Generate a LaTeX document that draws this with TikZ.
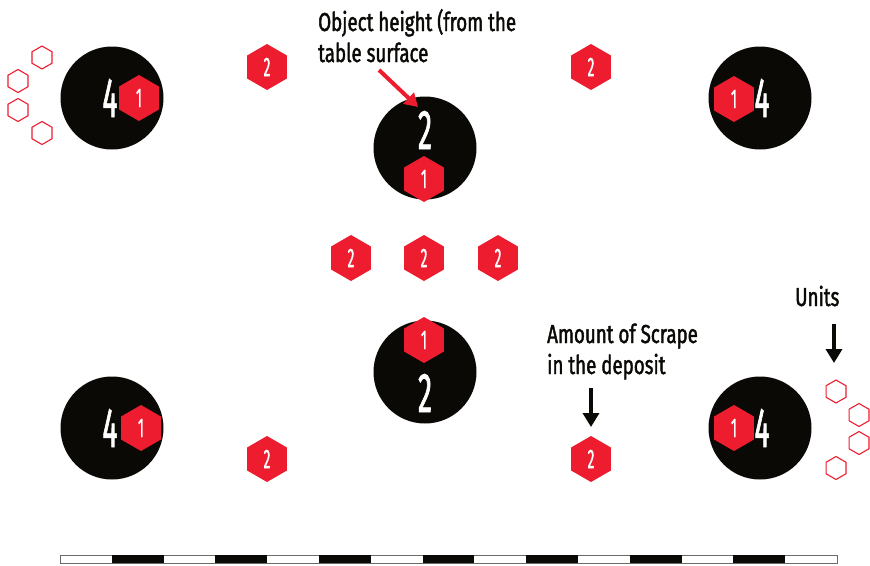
\documentclass[tikz,border=0pt]{standalone}
\usepackage{fontspec}
\usetikzlibrary{shapes.geometric,arrows.meta}
\newfontfamily\labfont[FakeStretch=0.72,FakeBold=1.6]{Fira Sans}
\newfontfamily\numfont[FakeStretch=0.5,FakeBold=1.2]{Fira Sans}
\definecolor{hexred}{RGB}{237,28,46}
\definecolor{ink}{RGB}{10,9,6}
\begin{document}
\begin{tikzpicture}[x=1pt,y=-1pt,
  disc/.style={circle,fill=ink,minimum size=103pt,inner sep=0},
  hexfill/.style={regular polygon,regular polygon sides=6,shape border rotate=30,fill=hexred,minimum size=46pt,inner sep=0,text=white,font=\numfont\fontsize{27}{27}\selectfont},
  hexline/.style={regular polygon,regular polygon sides=6,shape border rotate=30,draw=hexred,line width=1.1pt,minimum size=23pt,inner sep=0},
  bignum/.style={text=white,inner sep=0,font=\numfont\fontsize{56}{56}\selectfont},
  lab/.style={anchor=base west,inner sep=0,text=ink,font=\labfont\fontsize{26}{26}\selectfont},
  redarrow/.style={draw=hexred,line width=4pt,-{Triangle[length=13pt,width=15pt]}},
  blackarrow/.style={draw=ink,line width=4pt,-{Triangle[length=14pt,width=16pt]}},
  scalew/.style={draw=ink!60,fill=white,line width=0.8pt},
  scaleb/.style={fill=ink}
]
\useasboundingbox (0,0) rectangle (870,565);

% discs
\node[disc] (d1) at (112,98) {};
\node[disc] (d2) at (425,148) {};
\node[disc] (d3) at (760,98) {};
\node[disc] (d4) at (425,372) {};
\node[disc] (d5) at (112,428) {};
\node[disc] (d6) at (760,428) {};

% big numbers
\node[bignum] (n1) at (110,98) {4};
\node[bignum] (n2) at (425,130) {2};
\node[bignum] (n3) at (762,98) {4};
\node[bignum] (n4) at (425,393) {2};
\node[bignum] (n5) at (110,428) {4};
\node[bignum] (n6) at (762,428) {4};

% filled hexagons
\node[hexfill] (h1) at (139,98) {1};
\node[hexfill] (h2) at (424,179) {1};
\node[hexfill] (h3) at (734,99) {1};
\node[hexfill] (h4) at (424,340) {1};
\node[hexfill] (h5) at (141,428) {1};
\node[hexfill] (h6) at (734,428) {1};
\node[hexfill] (h7) at (267,67) {2};
\node[hexfill] (h8) at (591,67) {2};
\node[hexfill] (h9) at (351,258) {2};
\node[hexfill] (h10) at (424,258) {2};
\node[hexfill] (h11) at (498,258) {2};
\node[hexfill] (h12) at (267,459) {2};
\node[hexfill] (h13) at (591,459) {2};

% outline hexagons
\node[hexline] (u1) at (42,57.5) {};
\node[hexline] (u2) at (18,81) {};
\node[hexline] (u3) at (18,110) {};
\node[hexline] (u4) at (42,133) {};
\node[hexline] (u5) at (836,391.5) {};
\node[hexline] (u6) at (859,415) {};
\node[hexline] (u7) at (859,443) {};
\node[hexline] (u8) at (836,468) {};

% labels
\node[lab] (t1) at (318,31) {Object height (from the};
\node[lab] (t2) at (318,62) {table surface};
\node[lab] (t3) at (547,343) {Amount of Scrape};
\node[lab] (t4) at (547,374) {in the deposit};
\node[lab] (t5) at (795,306) {Units};

% arrows
\coordinate (a1s) at (379,70);
\coordinate (a1e) at (418,107);
\draw[redarrow] (a1s) -- (a1e);
\coordinate (a2s) at (591,388);
\coordinate (a2e) at (591,427);
\draw[blackarrow] (a2s) -- (a2e);
\coordinate (a3s) at (834,324);
\coordinate (a3e) at (834,363);
\draw[blackarrow] (a3s) -- (a3e);

% scale bar
\draw[scalew] (60,555) rectangle (837,563);
\foreach \i in {1,3,...,13} {
  \fill[scaleb] ({60+\i*51.8},554.6) rectangle ({60+(\i+1)*51.8},563.4);
}
\end{tikzpicture}
\end{document}
